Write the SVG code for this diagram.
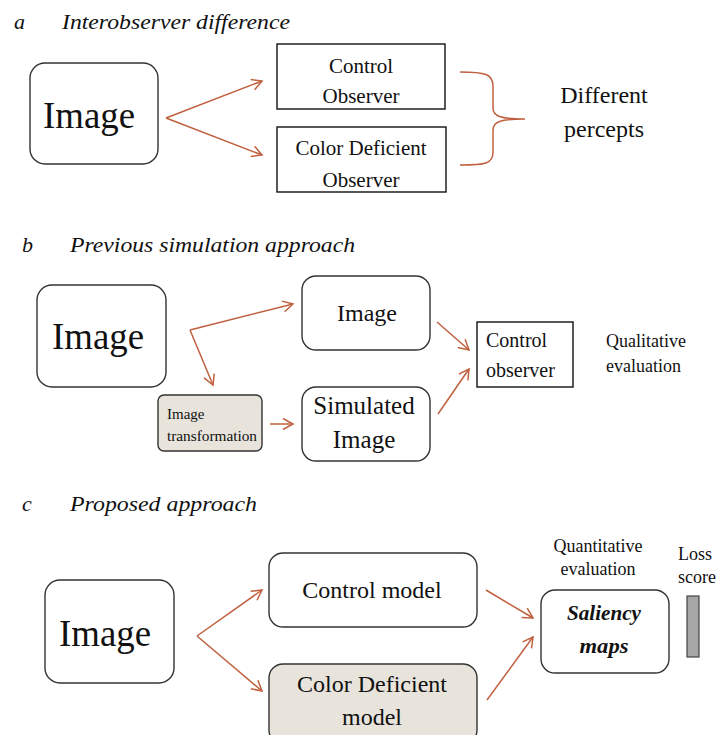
<svg xmlns="http://www.w3.org/2000/svg" width="717" height="735" viewBox="0 0 717 735" font-family="'Liberation Serif', 'Times New Roman', Times, serif">
<style>
text{font-family:'Liberation Serif','Times New Roman',Times,serif;fill:#111}
.t{font-style:italic;font-size:22px}
.box{fill:#fff;stroke:#333;stroke-width:1.4}
.gbox{fill:#e8e4dc;stroke:#333;stroke-width:1.4}
.c{stroke:#c0603f;stroke-width:1.5;fill:none}
.a{marker-end:url(#ah)}
.big{font-size:37px}
.m{text-anchor:middle}
</style>
<defs>
<marker id="ah" markerUnits="userSpaceOnUse" markerWidth="14" markerHeight="14" viewBox="0 0 14 14" refX="12" refY="7" orient="auto">
<path d="M2,1.5 L12,7 L2,12.5" fill="none" stroke="#c0603f" stroke-width="1.5"/>
</marker>
</defs>
<rect width="717" height="735" fill="#fff"/>

<g id="titles">
<text class="t" x="14" y="29">a</text>
<text class="t" x="62" y="29" textLength="228" lengthAdjust="spacingAndGlyphs">Interobserver difference</text>
<text class="t" x="22" y="252">b</text>
<text class="t" x="70" y="252" textLength="285" lengthAdjust="spacingAndGlyphs">Previous simulation approach</text>
<text class="t" x="22" y="511">c</text>
<text class="t" x="70" y="511" textLength="187" lengthAdjust="spacingAndGlyphs">Proposed approach</text>
</g>

<g id="connectors">
<line class="c a" x1="166" y1="118" x2="262" y2="81"/>
<line class="c a" x1="166" y1="118" x2="262" y2="155"/>
<path class="c" d="M460,72 C485,72 493,74 493,86 L493,108 C493,116 500,119 525,119 C500,119 493,122 493,130 L493,152 C493,164 485,165 460,165"/>
<line class="c a" x1="190" y1="330" x2="293" y2="304"/>
<line class="c a" x1="190" y1="330" x2="213" y2="385"/>
<line class="c a" x1="270" y1="424" x2="293" y2="424"/>
<line class="c a" x1="437" y1="322" x2="469" y2="350"/>
<line class="c a" x1="438" y1="414" x2="469" y2="369"/>
<line class="c a" x1="197" y1="636" x2="262" y2="590"/>
<line class="c a" x1="197" y1="636" x2="262" y2="691"/>
<line class="c a" x1="486" y1="590" x2="533" y2="618"/>
<line class="c a" x1="487" y1="700" x2="533" y2="637"/>
</g>

<g id="a-image">
<rect class="box" x="30" y="63" width="128" height="101" rx="15"/>
<text class="big" x="43" y="128" textLength="92" lengthAdjust="spacingAndGlyphs">Image</text>
</g>
<g id="a-control-observer">
<rect x="277" y="44" width="168" height="65" fill="#fff" stroke="#111" stroke-width="1.4"/>
<text class="m" x="361" y="73" font-size="21">Control</text>
<text class="m" x="361" y="103" font-size="21">Observer</text>
</g>
<g id="a-cd-observer">
<rect x="277" y="127" width="169" height="65" fill="#fff" stroke="#111" stroke-width="1.4"/>
<text class="m" x="361" y="155" font-size="21">Color Deficient</text>
<text class="m" x="361" y="187" font-size="21">Observer</text>
</g>
<g id="a-percepts">
<text class="m" x="604" y="103" font-size="24">Different</text>
<text class="m" x="604" y="137" font-size="24">percepts</text>
</g>

<g id="b-image">
<rect class="box" x="37" y="285" width="129" height="102" rx="15"/>
<text class="big" x="52" y="349" textLength="92" lengthAdjust="spacingAndGlyphs">Image</text>
</g>
<g id="b-transform">
<rect class="gbox" x="158" y="395" width="104" height="56" rx="6"/>
<text x="167" y="419" font-size="15">Image</text>
<text x="167" y="441" font-size="15" textLength="90" lengthAdjust="spacingAndGlyphs">transformation</text>
</g>
<g id="b-image2">
<rect class="box" x="302" y="276" width="128" height="74" rx="14"/>
<text class="m" x="367" y="321" font-size="24">Image</text>
</g>
<g id="b-simulated">
<rect class="box" x="302" y="387" width="128" height="74" rx="14"/>
<text class="m" x="364" y="414" font-size="25">Simulated</text>
<text class="m" x="364" y="448" font-size="25">Image</text>
</g>
<g id="b-control-observer">
<rect x="477" y="322" width="96" height="65" fill="#fff" stroke="#111" stroke-width="1.4"/>
<text x="486" y="347" font-size="20">Control</text>
<text x="486" y="377" font-size="20">observer</text>
</g>
<g id="b-qualitative">
<text x="606" y="347" font-size="18">Qualitative</text>
<text x="606" y="372" font-size="18">evaluation</text>
</g>

<g id="c-image">
<rect class="box" x="45" y="580" width="129" height="103" rx="15"/>
<text class="big" x="59" y="646" textLength="92" lengthAdjust="spacingAndGlyphs">Image</text>
</g>
<g id="c-control-model">
<rect class="box" x="269" y="553" width="208" height="74" rx="14"/>
<text class="m" x="372" y="598" font-size="24">Control model</text>
</g>
<g id="c-cd-model">
<rect class="gbox" x="269" y="664" width="208" height="80" rx="14"/>
<text class="m" x="372" y="692" font-size="24">Color Deficient</text>
<text class="m" x="372" y="725" font-size="24">model</text>
</g>
<g id="c-saliency">
<rect class="box" x="541" y="590" width="128" height="83" rx="14"/>
<text class="m" x="604" y="620" font-size="22" font-weight="bold" font-style="italic" textLength="74" lengthAdjust="spacingAndGlyphs">Saliency</text>
<text class="m" x="604" y="653" font-size="22" font-weight="bold" font-style="italic" textLength="49" lengthAdjust="spacingAndGlyphs">maps</text>
</g>
<g id="c-quantitative">
<text class="m" x="598" y="552" font-size="18">Quantitative</text>
<text class="m" x="598" y="575" font-size="18">evaluation</text>
</g>
<g id="c-loss">
<text x="678" y="560" font-size="18">Loss</text>
<text x="678" y="583" font-size="18">score</text>
<rect x="687" y="596" width="12" height="61" fill="#a6a6a6" stroke="#444" stroke-width="1.2"/>
</g>
</svg>
